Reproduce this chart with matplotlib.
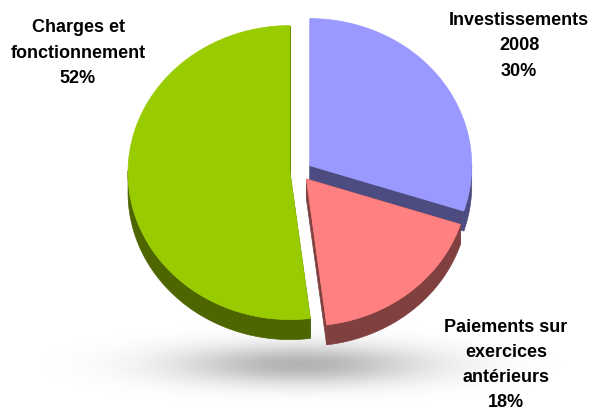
import numpy as np
import matplotlib
matplotlib.use("Agg")
import matplotlib.pyplot as plt
from matplotlib.patches import Polygon

# ---- data ----
categories = ["Investissements\n2008", "Paiements sur\nexercices\nantérieurs", "Charges et\nfonctionnement"]
values = [30, 18, 52]
pct_labels = ["30%", "18%", "52%"]

# ---- style ----
top_colors = ["#9999FF", "#FF8080", "#99CC00"]
side_colors = ["#4C4C80", "#804040", "#4D6600"]
explode = [12, 10, 10]          # px
label_pos = [(519, 46), (506, 365), (78, 53)]

W, H = 597, 408
cx, cy = 300, 172
rx, ry = 162, 147
depth = 20

fig = plt.figure(figsize=(W / 100, H / 100), dpi=100)
ax = fig.add_axes([0, 0, 1, 1])
ax.set_xlim(0, W)
ax.set_ylim(H, 0)
ax.axis("off")

# shadow
xx, yy = np.meshgrid(np.arange(W), np.arange(H))
sh = np.exp(-((xx - 300) / 125.0) ** 2 - ((yy - 364) / 20.0) ** 2)
rgba = np.zeros((H, W, 4))
rgba[..., 3] = 0.30 * sh
ax.imshow(rgba, extent=(0, W, H, 0), zorder=0, interpolation="bilinear")

def pt(c, th):
    return (c[0] + rx * np.cos(th), c[1] - ry * np.sin(th))

total = float(sum(values))
start = np.pi / 2
walls, tops = [], []
for i, v in enumerate(values):
    sweep = 2 * np.pi * v / total
    a0, a1 = start - sweep, start   # clockwise slice from start
    mid = (a0 + a1) / 2
    c = (cx + explode[i] * np.cos(mid), cy - explode[i] * np.sin(mid) * ry / rx)
    ths = np.linspace(a0, a1, 200)
    arc = np.array([pt(c, t) for t in ths])
    top = np.vstack([[c], arc])
    tops.append((top, top_colors[i]))
    s = np.sin(ths)
    mask = s < 0.02
    if mask.any():
        idx = np.where(mask)[0]
        segs = np.split(idx, np.where(np.diff(idx) > 1)[0] + 1)
        for sg in segs:
            a = arc[sg]
            b = a.copy(); b[:, 1] += depth
            walls.append((np.vstack([a, b[::-1]]), side_colors[i]))
    for th in (a0, a1):
        p = pt(c, th)
        poly = np.array([c, p, (p[0], p[1] + depth), (c[0], c[1] + depth)])
        walls.append((poly, side_colors[i]))
    start = a0

for poly, col in walls:
    ax.add_patch(Polygon(poly, closed=True, fc=col, ec=col, lw=0.5, zorder=2))
for poly, col in tops:
    ax.add_patch(Polygon(poly, closed=True, fc=col, ec=col, lw=0.5, zorder=3))

for i in range(len(values)):
    ax.text(label_pos[i][0], label_pos[i][1], categories[i] + "\n" + pct_labels[i],
            ha="center", va="center", fontsize=13, fontweight="bold",
            family="Liberation Sans", linespacing=1.62, zorder=5)

fig.savefig("out.png", dpi=100)
